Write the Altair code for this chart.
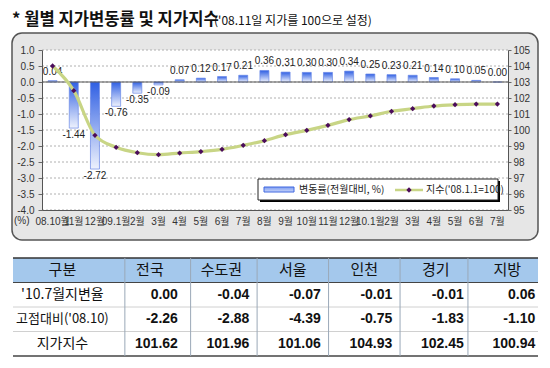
import json
import altair as alt
import pandas as pd

# ---------------- data ----------------
keys = ["08.10", "08.11", "08.12", "09.01", "09.02", "09.03", "09.04", "09.05",
        "09.06", "09.07", "09.08", "09.09", "09.10", "09.11", "09.12", "10.01",
        "10.02", "10.03", "10.04", "10.05", "10.06", "10.07"]
month_labels = ["08.10월", "11월", "12월", "09.1월", "2월", "3월", "4월", "5월",
                "6월", "7월", "8월", "9월", "10월", "11월", "12월", "10.1월",
                "2월", "3월", "4월", "5월", "6월", "7월"]
rates = [0.04, -1.44, -2.72, -0.76, -0.35, -0.09, 0.07, 0.12, 0.17, 0.21, 0.36,
         0.31, 0.30, 0.30, 0.34, 0.25, 0.23, 0.21, 0.14, 0.10, 0.05, 0.00]
index_vals = [104.0, 102.46, 99.67, 98.92, 98.58, 98.46, 98.56, 98.65, 98.79,
              99.04, 99.33, 99.71, 99.98, 100.29, 100.65, 100.88, 101.17,
              101.33, 101.50, 101.58, 101.62, 101.62]
left_ticks = [-4.0, -3.5, -3.0, -2.5, -2.0, -1.5, -1.0, -0.5, 0.0, 0.5, 1.0]
right_ticks = [95, 96, 97, 98, 99, 100, 101, 102, 103, 104, 105]

title_main = "* 월별 지가변동률 및 지가지수"
title_note = "('08.11일 지가를 100으로 설정)"
legend_bar = "변동률(전월대비, %)"
legend_line = "지수('08.1.1=100)"
unit_label = "(%)"

table_cols = ["구분", "전국", "수도권", "서울", "인천", "경기", "지방"]
table_rows = ["'10.7월지변율", "고점대비('08.10)", "지가지수"]
row_monthly = [0.00, -0.04, -0.07, -0.01, -0.01, 0.06]
row_peak = [-2.26, -2.88, -4.39, -0.75, -1.83, -1.10]
row_index = [101.62, 101.96, 101.06, 104.93, 102.45, 100.94]

# ---------------- frames ----------------
df = pd.DataFrame({"key": keys, "rate": rates, "idx": index_vals})
grid_df = pd.DataFrame({"g": left_ticks})
zero_df = pd.DataFrame({"z": [0.0]})
one = pd.DataFrame({"a": [0]})

hdr_df = pd.DataFrame({"c": list(range(1, len(table_cols))), "r": [0] * (len(table_cols) - 1),
                       "t": table_cols[1:]})
lab_df = pd.DataFrame({"c": [0] * (len(table_rows) + 1), "r": [0, 1, 2, 3],
                       "t": [table_cols[0]] + table_rows,
                       "fs": [15, 14, 13, 14]})
vals = []
for ci in range(6):
    for ri, arr in enumerate([row_monthly, row_peak, row_index]):
        vals.append({"c": ci + 1, "r": ri + 1, "v": arr[ci]})
val_df = pd.DataFrame(vals)

W, H = 466, 160
NUM_FONT = "Liberation Sans, Noto Sans CJK KR"
KR_FONT = "Noto Sans CJK KR"
HYPHEN = "replace(format(%s, '%s'), '\u2212', '-')"

label_expr = "%s[indexof(%s, datum.value)]" % (
    json.dumps(month_labels, ensure_ascii=False), json.dumps(keys))

x_axis = alt.Axis(title=None, labelExpr=label_expr, labelAngle=0, labelOverlap=False,
                  labelBound=False, labelFont=NUM_FONT, labelFontSize=10,
                  labelColor="#333", labelPadding=6, ticks=False,
                  domainColor="#555", domainWidth=1, zindex=1, labelLimit=0)
x_enc = alt.X("key:N", sort=keys, axis=x_axis,
              scale=alt.Scale(paddingInner=0.1, paddingOuter=0.05))

y_left_axis = alt.Axis(title=None, values=left_ticks, labelExpr=HYPHEN % ("datum.value", ".1f"),
                       grid=False, labelFont=NUM_FONT, labelFontSize=10, labelColor="#333",
                       tickSize=4, tickColor="#666", labelPadding=4,
                       domainColor="#555", zindex=1)
y_left_scale = alt.Scale(domain=[-4, 1], nice=False, zero=False)

y_right_axis = alt.Axis(title=None, orient="right", values=right_ticks, grid=False,
                        labelFont=NUM_FONT, labelFontSize=10, labelColor="#333",
                        tickSize=3, tickColor="#666", labelPadding=2,
                        domainColor="#555", zindex=1)
y_right_scale = alt.Scale(domain=[95, 105], nice=False, zero=False)

# ---------------- decorations ----------------
panel = alt.Chart(one).mark_rect(cornerRadius=10, fill="#e6e6e6", stroke="#555",
                                 strokeWidth=1.5).encode(
    x=alt.value(-30), x2=alt.value(496), y=alt.value(-17), y2=alt.value(190))
plot_bg = alt.Chart(one).mark_rect(fill="white").encode(
    x=alt.value(0), x2=alt.value(W), y=alt.value(0), y2=alt.value(H))

t_main = alt.Chart(one).mark_text(align="left", baseline="alphabetic", font=KR_FONT,
                                  fontSize=16.6, fontWeight="bold", color="#111").encode(
    x=alt.value(-30), y=alt.value(-25), text=alt.value(title_main))
t_note = alt.Chart(one).mark_text(align="left", baseline="alphabetic", font=KR_FONT,
                                  fontSize=12, color="#111").encode(
    x=alt.value(172), y=alt.value(-25), text=alt.value(title_note))
t_unit = alt.Chart(one).mark_text(align="left", baseline="middle", font=NUM_FONT,
                                  fontSize=10, color="#333").encode(
    x=alt.value(-28), y=alt.value(171), text=alt.value(unit_label))

# ---------------- bar part ----------------
bar_grad = alt.Gradient(gradient="linear",
                        stops=[alt.GradientStop(color="#2f5fe3", offset=0),
                               alt.GradientStop(color="#eef2fd", offset=1)],
                        x1=0, x2=0, y1=0, y2=1)

grid = alt.Chart(grid_df).mark_rule(color="#b0b0b0", strokeWidth=1, strokeDash=[2, 2]).encode(
    y=alt.Y("g:Q", scale=y_left_scale, axis=y_left_axis))
bars = alt.Chart(df).mark_bar(size=9, color=bar_grad, stroke="#6a88e6", strokeWidth=0.7).encode(
    x=x_enc, y=alt.Y("rate:Q", scale=y_left_scale, axis=y_left_axis))
zero = alt.Chart(zero_df).mark_rule(color="#555", strokeWidth=1.2).encode(
    y=alt.Y("z:Q", scale=y_left_scale, axis=y_left_axis))
lab_pos = alt.Chart(df).transform_filter("datum.rate >= 0").transform_calculate(
    s=HYPHEN % ("datum.rate", ".2f")).mark_text(
    baseline="bottom", dy=-4, font=NUM_FONT, fontSize=10, color="#222").encode(
    x=x_enc, y=alt.Y("rate:Q", scale=y_left_scale, axis=y_left_axis), text="s:N")
lab_neg = alt.Chart(df).transform_filter("datum.rate < 0").transform_calculate(
    s=HYPHEN % ("datum.rate", ".2f")).mark_text(
    baseline="top", dy=2, font=NUM_FONT, fontSize=10, color="#222").encode(
    x=x_enc, y=alt.Y("rate:Q", scale=y_left_scale, axis=y_left_axis), text="s:N")
bar_part = alt.layer(grid, bars, zero, lab_pos, lab_neg)

# ---------------- line part ----------------
LINE_COLOR = "#c8d585"
PT_COLOR = "#4b0c5b"
line = alt.Chart(df).mark_line(interpolate="monotone", color=LINE_COLOR, strokeWidth=3.2).encode(
    x=x_enc, y=alt.Y("idx:Q", scale=y_right_scale, axis=y_right_axis))
pts = alt.Chart(df).mark_point(shape="diamond", filled=True, color=PT_COLOR, size=28, opacity=1).encode(
    x=x_enc, y=alt.Y("idx:Q", scale=y_right_scale, axis=y_right_axis))
line_part = alt.layer(line, pts)

main = alt.layer(bar_part, line_part).resolve_scale(y="independent")

# ---------------- legend ----------------
lg_shadow = alt.Chart(one).mark_rect(fill="#000").encode(
    x=alt.value(218), x2=alt.value(458), y=alt.value(131), y2=alt.value(152))
lg_box = alt.Chart(one).mark_rect(fill="white", stroke="#222", strokeWidth=1).encode(
    x=alt.value(216), x2=alt.value(456), y=alt.value(129), y2=alt.value(150))
lg_sw = alt.Chart(one).mark_rect(color=alt.Gradient(gradient="linear",
                                 stops=[alt.GradientStop(color="#7d9cf0", offset=0),
                                        alt.GradientStop(color="#c8d5fa", offset=1)],
                                 x1=0, x2=0, y1=0, y2=1),
                                 stroke="#3f66e0", strokeWidth=1).encode(
    x=alt.value(222), x2=alt.value(252), y=alt.value(137), y2=alt.value(142))
lg_t1 = alt.Chart(one).mark_text(align="left", baseline="middle", font=KR_FONT,
                                 fontSize=10, color="#222").encode(
    x=alt.value(257), y=alt.value(140), text=alt.value(legend_bar))
lg_ln = alt.Chart(one).mark_rule(color=LINE_COLOR, strokeWidth=2.5).encode(
    x=alt.value(353), x2=alt.value(381), y=alt.value(140))
lg_pt = alt.Chart(one).mark_point(shape="diamond", filled=True, color=PT_COLOR, size=28, opacity=1).encode(
    x=alt.value(367), y=alt.value(140))
lg_t2 = alt.Chart(one).mark_text(align="left", baseline="middle", font=KR_FONT,
                                 fontSize=10, color="#222").encode(
    x=alt.value(384), y=alt.value(140), text=alt.value(legend_line))

# ---------------- table ----------------
TX = [-0.915, 6.43]
TY = [-0.5, 3.5]
tx_scale = alt.Scale(domain=TX, range=[-29, 496], nice=False, zero=False)
ty_scale = alt.Scale(domain=TY, range=[208, 306], nice=False, zero=False)

hdr_fill = alt.Chart(pd.DataFrame({"x0": [TX[0]], "x1": [TX[1]], "y0": [-0.5], "y1": [0.5]})).mark_rect(
    fill="#a4c8ec").encode(
    x=alt.X("x0:Q", scale=tx_scale, axis=None), x2="x1:Q",
    y=alt.Y("y0:Q", scale=ty_scale, axis=None), y2="y1:Q")
hlines_df = pd.DataFrame({"y": [-0.5, 0.5, 1.5, 2.5, 3.5],
                          "w": [1.6, 1.2, 0.8, 0.8, 1.4],
                          "col": ["#333", "#444", "#c4c4c4", "#c4c4c4", "#444"],
                          "x0": TX[0], "x1": TX[1]})
hlines = alt.Chart(hlines_df).mark_rule().encode(
    x=alt.X("x0:Q", scale=tx_scale, axis=None), x2="x1:Q",
    y=alt.Y("y:Q", scale=ty_scale, axis=None),
    color=alt.Color("col:N", scale=None), strokeWidth=alt.StrokeWidth("w:Q", scale=None))
vlines_df = pd.DataFrame({"x": [0.65, 1.57, 2.5, 3.5, 4.5, 5.45], "y0": TY[0], "y1": TY[1]})
vlines = alt.Chart(vlines_df).mark_rule(color="#9aa8b8", strokeWidth=1).encode(
    x=alt.X("x:Q", scale=tx_scale, axis=None),
    y=alt.Y("y0:Q", scale=ty_scale, axis=None), y2="y1:Q")
hdr_txt = alt.Chart(hdr_df).mark_text(align="center", baseline="middle", font=KR_FONT,
                                      fontSize=15, color="#111").encode(
    x=alt.X("c:Q", scale=tx_scale, axis=None), y=alt.Y("r:Q", scale=ty_scale, axis=None),
    text="t:N")
lab_txt = alt.Chart(lab_df).mark_text(align="center", baseline="middle", font=KR_FONT,
                                      dx=-16, color="#111").encode(
    x=alt.X("c:Q", scale=tx_scale, axis=None), y=alt.Y("r:Q", scale=ty_scale, axis=None),
    text="t:N", size=alt.Size("fs:Q", scale=None))
val_txt = alt.Chart(val_df).transform_calculate(s=HYPHEN % ("datum.v", ".2f")).mark_text(
    align="right", baseline="middle", dx=28, font=NUM_FONT,
    fontSize=14, fontWeight="bold", color="#111").encode(
    x=alt.X("c:Q", scale=tx_scale, axis=None), y=alt.Y("r:Q", scale=ty_scale, axis=None),
    text="s:N")
table = alt.layer(hdr_fill, hlines, vlines, hdr_txt, lab_txt, val_txt)

chart = alt.layer(
    panel, plot_bg, main,
    lg_shadow, lg_box, lg_sw, lg_t1, lg_ln, lg_pt, lg_t2,
    t_main, t_note, t_unit, table
).resolve_scale(x="independent", y="independent").properties(
    width=W, height=H,
    autosize=alt.AutoSizeParams(type="none"),
    padding={"left": 34, "top": 42, "right": 34, "bottom": 152},
    background="white",
).configure_view(strokeWidth=0)

chart.save("out.html", embed_options={"renderer": "svg", "actions": False})
